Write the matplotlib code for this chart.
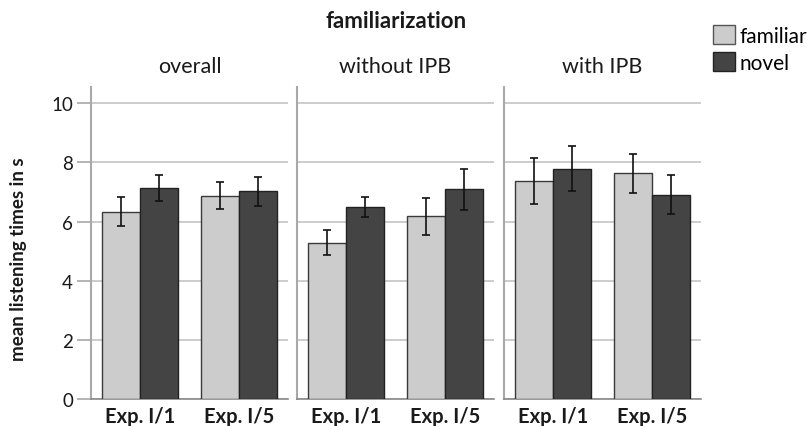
import numpy as np
import matplotlib
matplotlib.use("Agg")
from matplotlib import pyplot as plt
from matplotlib.patches import Patch

plt.rcParams['font.family'] = ['Lato', 'DejaVu Sans']

# mean listening times (s) with lower/upper ends of the error bars
panels = ["overall", "without IPB", "with IPB"]
experiments = ["Exp. I/1", "Exp. I/5"]

familiar_mean = [[6.34, 6.87], [5.29, 6.18], [7.36, 7.64]]
familiar_low = [[5.86, 6.41], [4.88, 5.54], [6.58, 6.98]]
familiar_high = [[6.82, 7.34], [5.73, 6.81], [8.14, 8.28]]

novel_mean = [[7.14, 7.02], [6.50, 7.09], [7.78, 6.90]]
novel_low = [[6.70, 6.53], [6.14, 6.40], [7.02, 6.25]]
novel_high = [[7.58, 7.49], [6.84, 7.79], [8.55, 7.58]]

light = "#cccccc"
dark = "#444444"
text_col = "#1a1a1a"
grid_col = "#c4c4c4"
spine_col = "#a8a8a8"

fig = plt.figure(figsize=(8.1, 4.27), dpi=100)

lefts = [91, 297, 504]
ax_w = 197
ax_bottom = 27 / 427
ax_h = (400 - 88) / 427
width = 0.385
x = np.arange(len(experiments))

for i, name in enumerate(panels):
    ax = fig.add_axes([lefts[i] / 810, ax_bottom, ax_w / 810, ax_h])
    fm = np.array(familiar_mean[i])
    nm = np.array(novel_mean[i])
    f_err = [fm - np.array(familiar_low[i]), np.array(familiar_high[i]) - fm]
    n_err = [nm - np.array(novel_low[i]), np.array(novel_high[i]) - nm]

    ax.bar(x - width / 2, fm, width, color=light, edgecolor="#3a3a3a",
           linewidth=1.0, zorder=3)
    ax.bar(x + width / 2, nm, width, color=dark, edgecolor="#222222",
           linewidth=1.0, zorder=3)
    ax.errorbar(x - width / 2, fm, yerr=f_err, fmt="none", ecolor="#111111",
                elinewidth=1.2, capsize=3, capthick=1.2, zorder=4)
    ax.errorbar(x + width / 2, nm, yerr=n_err, fmt="none", ecolor="#111111",
                elinewidth=1.2, capsize=3, capthick=1.2, zorder=4)

    ax.set_xlim(-0.5, 1.5)
    ax.set_ylim(0, 10.55)
    ax.set_yticks([0, 2, 4, 6, 8, 10])
    ax.yaxis.grid(True, color=grid_col, linewidth=1.2, zorder=0)
    ax.set_axisbelow(True)

    for side in ["top", "right"]:
        ax.spines[side].set_visible(False)
    ax.spines["left"].set_color(spine_col)
    ax.spines["left"].set_linewidth(1.5)
    ax.spines["bottom"].set_color("#888888")
    ax.spines["bottom"].set_linewidth(1.2)

    ax.set_xticks(x)
    ax.set_xticklabels(experiments, fontsize=14.5, fontweight="bold",
                       color=text_col)
    ax.tick_params(axis="x", length=0, pad=5)
    if i == 0:
        ax.tick_params(axis="y", length=10, color=spine_col, width=1.2,
                       labelsize=13.5, labelcolor=text_col, pad=3)
        ax.set_ylabel("mean listening times in s", fontsize=13.5,
                      fontweight="bold", color=text_col)
        ax.yaxis.set_label_coords(-64 / ax_w, 0.45)
    else:
        ax.tick_params(axis="y", length=0, labelleft=False)

    ax.set_title(name, fontsize=15.5, color=text_col, pad=11)

fig.text(396 / 810, 1 - 22 / 427, "familiarization", ha="center",
         va="center", fontsize=16, fontweight="bold", color=text_col)

handles = [Patch(facecolor=light, edgecolor="#555555", label="familiar"),
           Patch(facecolor=dark, edgecolor="#222222", label="novel")]
fig.legend(handles=handles, loc="upper left",
           bbox_to_anchor=(713 / 810, 1 - 26 / 427), frameon=False,
           fontsize=15, handlelength=1.05, handleheight=1.05,
           handletextpad=0.2, labelspacing=0.3, borderaxespad=0,
           borderpad=0)

fig.savefig("out.png", dpi=100)
